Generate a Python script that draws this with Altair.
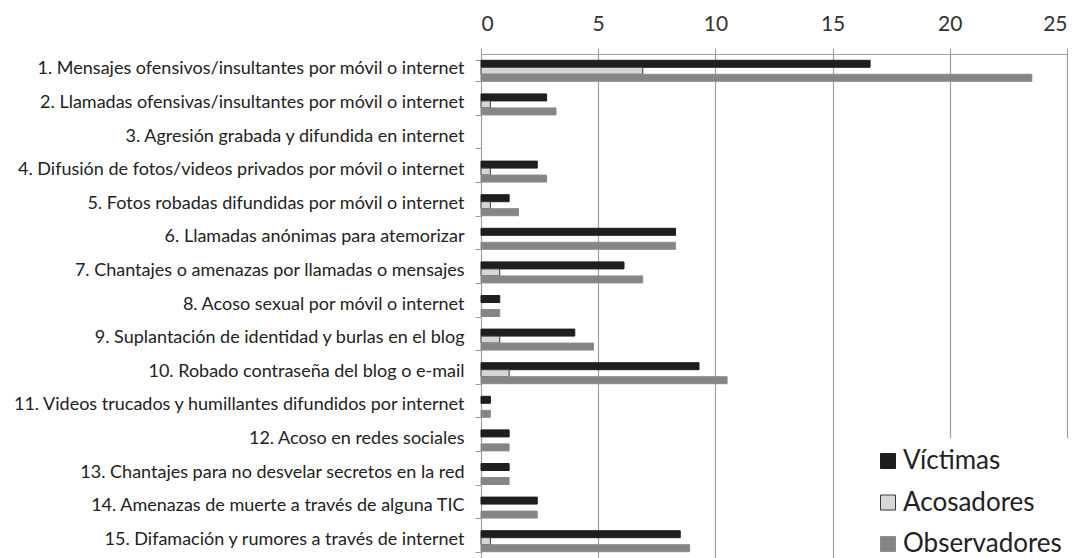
import altair as alt
import pandas as pd

categories = [
    "1. Mensajes ofensivos/insultantes por móvil o internet",
    "2. Llamadas ofensivas/insultantes por móvil o internet",
    "3. Agresión grabada y difundida en internet",
    "4. Difusión de fotos/videos privados por móvil o internet",
    "5. Fotos robadas difundidas por móvil o internet",
    "6. Llamadas anónimas para atemorizar\u00a0\u00a0",
    "7. Chantajes o amenazas por llamadas o mensajes",
    "8. Acoso sexual por móvil o internet",
    "9. Suplantación de identidad y burlas en el blog",
    "10. Robado contraseña del blog o e-mail",
    "11. Videos trucados y humillantes difundidos por internet",
    "12. Acoso en redes sociales",
    "13. Chantajes para no desvelar secretos en la red",
    "14. Amenazas de muerte a través de alguna TIC",
    "15. Difamación y rumores a través de internet",
]
series = ["Víctimas", "Acosadores", "Observadores"]
victimas = [16.6, 2.8, 0, 2.4, 1.2, 8.3, 6.1, 0.8, 4.0, 9.3, 0.4, 1.2, 1.2, 2.4, 8.5]
acosadores = [6.9, 0.4, 0, 0.4, 0.4, 0, 0.8, 0, 0.8, 1.2, 0, 0, 0, 0, 0.4]
observadores = [23.5, 3.2, 0, 2.8, 1.6, 8.3, 6.9, 0.8, 4.8, 10.5, 0.4, 1.2, 1.2, 2.4, 8.9]
x_ticks = [0, 5, 10, 15, 20, 25]

rows = []
for s, vals in zip(series, [victimas, acosadores, observadores]):
    for c, v in zip(categories, vals):
        rows.append({"cat": c, "serie": s, "valor": v})
df = pd.DataFrame(rows)

fills = ["#1f1d1e", "#d6d6d6", "#858585"]
strokes = ["#1f1d1e", "#3a3a3a", "#8a8a8a"]

chart = (
    alt.Chart(df)
    .transform_filter("datum.valor > 0")
    .mark_bar(strokeWidth=1)
    .encode(
        x=alt.X(
            "valor:Q",
            scale=alt.Scale(domain=[0, 25], nice=False),
            axis=alt.Axis(
                orient="top",
                values=x_ticks,
                title=None,
                grid=True,
                gridColor="#a0a0a0",
                gridWidth=1.2,
                domainColor="#a0a0a0",
                tickColor="#a0a0a0",
                tickSize=6,
                labelPadding=14,
                labelFontSize=21,
                labelFont="Lato",
                labelColor="#333333",
            ),
        ),
        y=alt.Y(
            "cat:N",
            sort=categories,
            scale=alt.Scale(domain=categories, paddingInner=0.375, paddingOuter=0.1875),
            axis=alt.Axis(
                title=None,
                tickBand="extent",
                tickSize=6,
                tickColor="#a0a0a0",
                domainColor="#a0a0a0",
                labelPadding=11,
                labelOffset=-2,
                labelFontSize=18,
                labelFont="Lato",
                labelColor="#222222",
                labelLimit=600,
            ),
        ),
        yOffset=alt.YOffset("serie:N", sort=series, scale=alt.Scale(domain=series, paddingInner=0, paddingOuter=0)),
        fill=alt.Fill(
            "serie:N",
            sort=series,
            scale=alt.Scale(domain=series, range=fills),
            title=None,
            legend=alt.Legend(
                orient="none",
                legendX=384,
                legendY=384,
                symbolType="square",
                symbolSize=225,
                symbolStrokeWidth=1,
                labelFontSize=26,
                labelFont="Lato",
                labelColor="#222222",
                rowPadding=15.5,
                padding=10,
                fillColor="white",
                labelOffset=2,
            ),
        ),
        stroke=alt.Stroke(
            "serie:N",
            sort=series,
            scale=alt.Scale(domain=series, range=strokes),
            title=None,
        ),
    )
    .properties(
        width=586,
        height=504,
        autosize=alt.AutoSizeParams(type="none"),
        padding={"left": 473, "top": 46, "right": 8, "bottom": 0},
    )
    .configure_view(stroke=None)
    .configure(background="white")
)

chart.save("out.html", embed_options={"renderer": "svg", "actions": False})
